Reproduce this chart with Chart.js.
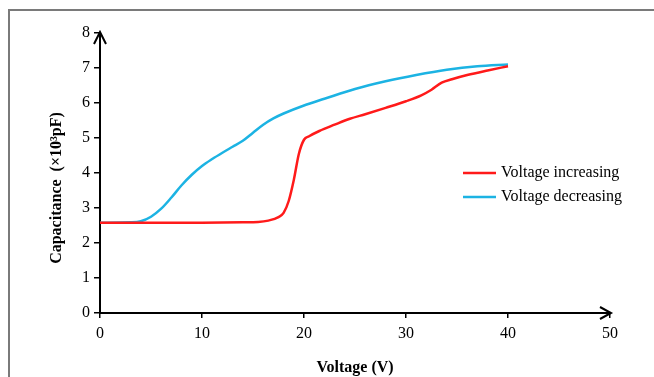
<!DOCTYPE html>
<html>
<head>
<meta charset="utf-8">
<script src="https://cdn.jsdelivr.net/npm/chart.js@4.4.1/dist/chart.umd.min.js"></script>
<style>
  html, body { margin: 0; padding: 0; background: #fff; overflow: hidden; }
  #wrap { position: relative; width: 654px; height: 377px; }
  #frame {
    position: absolute; left: 8px; top: 9px; width: 700px; height: 420px;
    border-left: 2px solid #7a7a7a; border-top: 2px solid #7a7a7a;
    pointer-events: none;
  }
  canvas { position: absolute; left: 0; top: 0; }
</style>
</head>
<body>
<div id="wrap">
  <canvas id="chart" width="654" height="377"></canvas>
  <div id="frame"></div>
</div>
<script>
// Capacitance vs voltage (hysteresis)
(function () {
  'use strict';

  // --- Data ---
  const incVoltage = [0, 5, 10, 14, 15.5, 16.5, 17.5, 18, 18.5, 19, 19.5, 20, 20.5, 21.5, 23, 24.5, 26, 28, 30, 31.5, 32.5, 33.5, 34.5, 36, 38, 40];
  const incCapacitance = [2.58, 2.58, 2.58, 2.59, 2.6, 2.64, 2.74, 2.86, 3.2, 3.8, 4.55, 4.95, 5.05, 5.2, 5.38, 5.55, 5.68, 5.86, 6.05, 6.22, 6.38, 6.58, 6.68, 6.8, 6.93, 7.05];

  const decVoltage = [0, 3, 4, 5, 6, 7, 8, 9, 10, 11, 12, 13, 14, 15, 16, 17, 18, 20, 22, 25, 28, 31, 34, 37, 40];
  const decCapacitance = [2.58, 2.59, 2.62, 2.75, 2.98, 3.3, 3.65, 3.95, 4.2, 4.4, 4.58, 4.75, 4.92, 5.15, 5.38, 5.56, 5.7, 5.93, 6.12, 6.4, 6.62, 6.8, 6.95, 7.05, 7.1];

  const seriesLabels = ['Voltage increasing', 'Voltage decreasing'];
  const xTicks = [0, 10, 20, 30, 40, 50];
  const yTicks = [0, 1, 2, 3, 4, 5, 6, 7, 8];

  const RED = '#ff1a1a';
  const BLUE = '#1cb3e3';
  const SERIF = '"Liberation Serif", "DejaVu Serif", serif';

  function toPoints(xs, ys) {
    return xs.map((x, i) => ({ x, y: ys[i] }));
  }

  // --- Plugins ---
  const axisArrows = {
    id: 'axisArrows',
    afterDraw(chart) {
      const { ctx, scales } = chart;
      const x0 = scales.x.getPixelForValue(0);
      const xEnd = scales.x.getPixelForValue(50);
      const y0 = scales.y.getPixelForValue(0);
      const yEnd = scales.y.getPixelForValue(8);
      ctx.save();
      ctx.strokeStyle = '#000';
      ctx.lineWidth = 2;
      ctx.lineJoin = 'miter';
      ctx.beginPath();
      ctx.moveTo(x0 - 6, yEnd + 11);
      ctx.lineTo(x0, yEnd - 1);
      ctx.lineTo(x0 + 6, yEnd + 11);
      ctx.moveTo(xEnd - 10, y0 - 6);
      ctx.lineTo(xEnd + 1, y0);
      ctx.lineTo(xEnd - 10, y0 + 6);
      ctx.stroke();
      ctx.restore();
    },
  };

  const yTitle = {
    id: 'yTitle',
    afterDraw(chart) {
      const { ctx } = chart;
      ctx.save();
      ctx.translate(57, 188);
      ctx.rotate(-Math.PI / 2);
      ctx.fillStyle = '#000';
      ctx.font = 'bold 16px ' + SERIF;
      ctx.textAlign = 'center';
      ctx.textBaseline = 'middle';
      ctx.fillText('Capacitance  (×10³pF)', 0, 0);
      ctx.restore();
    },
  };

  const sideLegend = {
    id: 'sideLegend',
    afterDraw(chart) {
      const { ctx } = chart;
      ctx.save();
      ctx.font = '16px ' + SERIF;
      ctx.textBaseline = 'middle';
      chart.data.datasets.forEach((ds, i) => {
        const y = 173 + i * 24;
        ctx.strokeStyle = ds.borderColor;
        ctx.lineWidth = 2.5;
        ctx.beginPath();
        ctx.moveTo(463, y);
        ctx.lineTo(496, y);
        ctx.stroke();
        ctx.fillStyle = '#000';
        ctx.fillText(ds.label, 501, y);
      });
      ctx.restore();
    },
  };

  // --- Chart ---
  const ctx = document.getElementById('chart').getContext('2d');
  new Chart(ctx, {
    type: 'scatter',
    data: {
      datasets: [
        {
          label: seriesLabels[0],
          data: toPoints(incVoltage, incCapacitance),
          borderColor: RED,
          borderWidth: 2.5,
          showLine: true,
          pointRadius: 0,
          cubicInterpolationMode: 'monotone',
        },
        {
          label: seriesLabels[1],
          data: toPoints(decVoltage, decCapacitance),
          borderColor: BLUE,
          borderWidth: 2.5,
          showLine: true,
          pointRadius: 0,
          cubicInterpolationMode: 'monotone',
        },
      ],
    },
    options: {
      responsive: false,
      animation: false,
      layout: { padding: { top: 33, right: 44, left: 0, bottom: 0 } },
      plugins: {
        legend: { display: false },
        tooltip: { enabled: false },
      },
      scales: {
        x: {
          type: 'linear',
          min: 0,
          max: 50,
          afterBuildTicks: (scale) => { scale.ticks = xTicks.map((v) => ({ value: v })); },
          afterFit: (scale) => { scale.height = 64; },
          border: { display: true, color: '#000', width: 2 },
          grid: { drawOnChartArea: false, drawTicks: true, tickLength: 5, color: '#000', lineWidth: 1.5 },
          ticks: { color: '#000', font: { family: SERIF, size: 16 }, padding: 6, maxRotation: 0 },
          title: {
            display: true,
            text: 'Voltage (V)',
            color: '#000',
            font: { family: SERIF, size: 16, weight: 'bold' },
            padding: { top: 0, bottom: 0 },
          },
        },
        y: {
          type: 'linear',
          min: 0,
          max: 8,
          afterBuildTicks: (scale) => { scale.ticks = yTicks.map((v) => ({ value: v })); },
          afterFit: (scale) => { scale.width = 100; },
          border: { display: true, color: '#000', width: 2 },
          grid: { drawOnChartArea: false, drawTicks: true, tickLength: 6, color: '#000', lineWidth: 1.5 },
          ticks: { color: '#000', font: { family: SERIF, size: 16 }, padding: 4 },
        },
      },
    },
    plugins: [axisArrows, yTitle, sideLegend],
  });
})();
</script>
</body>
</html>
